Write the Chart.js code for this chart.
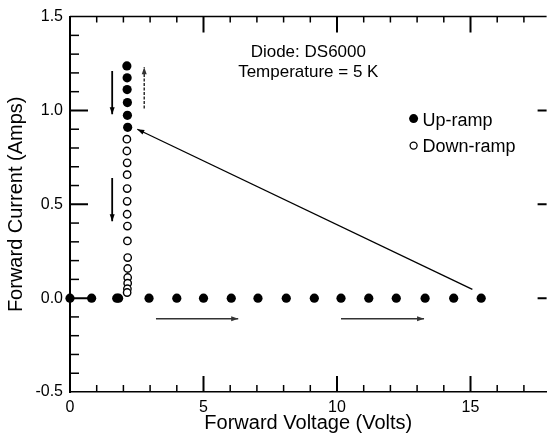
<!DOCTYPE html>
<html>
<head>
<meta charset="utf-8">
<script src="https://cdn.jsdelivr.net/npm/chart.js@4.4.1/dist/chart.umd.min.js"></script>
<style>
  html, body { margin: 0; padding: 0; background: #fff; }
  #wrap { width: 552px; height: 437px; }
</style>
</head>
<body>
<div id="wrap"><canvas id="ivChart"></canvas></div>
<script>
// Diode DS6000 forward I-V at 5 K

// up-ramp: voltage sweep at ~0 A, then the jump to 2.15 V and the current climb
const upRampV = [0, 0.81, 1.75, 1.82, 2.96, 4.0, 5.0, 6.04, 7.04, 8.1, 9.15, 10.15, 11.19, 12.22, 13.3, 14.37, 15.4,
                 2.16, 2.15, 2.15, 2.14, 2.14, 2.13];
const upRampI = [0, 0, 0, 0, 0, 0, 0, 0, 0, 0, 0, 0, 0, 0, 0, 0, 0,
                 0.91, 0.974, 1.042, 1.111, 1.174, 1.237];

const downRampV = [2.13, 2.13, 2.14, 2.14, 2.14, 2.14, 2.14, 2.15, 2.15, 2.16, 2.16, 2.16, 2.16, 2.15, 2.14];
const downRampI = [0.847, 0.784, 0.721, 0.658, 0.584, 0.516, 0.447, 0.384, 0.305, 0.216, 0.158, 0.11, 0.08, 0.05, 0.03];

// switch-back line from the end of the voltage sweep to the on-state
const jumpV = [15.07, 2.52];
const jumpI = [0.047, 0.9];

// direction arrows (start -> tip)
const guideV = [[1.58, 1.58], [2.78, 2.78], [1.58, 1.58], [3.22, 6.3], [10.15, 13.26]];
const guideI = [[1.21, 0.98], [1.01, 1.23], [0.64, 0.41], [-0.11, -0.11], [-0.11, -0.11]];

const xTickLabels = [0, 5, 10, 15];
const yTickLabels = [-0.5, 0, 0.5, 1.0, 1.5];

const toPoints = (xs, ys) => xs.map((v, i) => ({ x: v, y: ys[i] }));

const FONT = '"Liberation Sans", Arial, Helvetica, sans-serif';
Chart.defaults.font.family = FONT;
Chart.defaults.color = '#000';

// frame, inward tick marks, arrowheads and the text block / legend
const decorations = {
  id: 'decorations',
  afterDatasetsDraw(chart) {
    const { ctx, chartArea: a, scales: { x, y } } = chart;
    ctx.save();
    ctx.strokeStyle = '#000';

    // top frame line
    ctx.lineWidth = 1.5;
    ctx.beginPath();
    ctx.moveTo(a.left, a.top);
    ctx.lineTo(a.right, a.top);
    ctx.stroke();

    // x ticks (bottom and top)
    for (let v = 1; v <= 17; v++) {
      const px = x.getPixelForValue(v);
      const major = v % 5 === 0;
      ctx.lineWidth = major ? 2 : 1.5;
      ctx.beginPath();
      ctx.moveTo(px, a.bottom);
      ctx.lineTo(px, a.bottom - (major ? 16 : 7));
      ctx.moveTo(px, a.top);
      ctx.lineTo(px, a.top + (major ? 16 : 6));
      ctx.stroke();
    }
    // y ticks (left, right majors)
    for (let k = -4; k <= 14; k++) {
      const py = y.getPixelForValue(k / 10);
      const major = k % 5 === 0;
      ctx.lineWidth = major ? 2 : 1.5;
      ctx.beginPath();
      ctx.moveTo(a.left, py);
      ctx.lineTo(a.left + (major ? 18 : 9), py);
      if (major) {
        ctx.moveTo(a.right, py);
        ctx.lineTo(a.right - 9, py);
      }
      ctx.stroke();
    }

    // arrowheads
    chart.data.datasets.forEach((ds, i) => {
      if (!ds.arrow) return;
      const pts = chart.getDatasetMeta(i).data;
      const tip = pts[pts.length - 1], tail = pts[pts.length - 2];
      const ang = Math.atan2(tip.y - tail.y, tip.x - tail.x);
      ctx.save();
      ctx.translate(tip.x, tip.y);
      ctx.rotate(ang);
      ctx.beginPath();
      ctx.moveTo(0, 0);
      ctx.lineTo(-7, -2.5);
      ctx.lineTo(-7, 2.5);
      ctx.closePath();
      ctx.fillStyle = ds.borderColor;
      ctx.fill();
      ctx.restore();
    });

    // text block
    ctx.fillStyle = '#000';
    ctx.font = '17px ' + FONT;
    ctx.textAlign = 'center';
    ctx.textBaseline = 'middle';
    const cx = (a.left + a.right) / 2;
    ctx.fillText('Diode: DS6000', cx, a.top + 36);
    ctx.fillText('Temperature = 5 K', cx, a.top + 56);

    // legend
    const lx = a.right - 133;
    ctx.font = '18px ' + FONT;
    ctx.textAlign = 'left';
    ctx.beginPath();
    ctx.arc(lx, a.top + 102, 4.5, 0, Math.PI * 2);
    ctx.fill();
    ctx.fillText('Up-ramp', lx + 9, a.top + 104);
    ctx.beginPath();
    ctx.lineWidth = 1.3;
    ctx.arc(lx, a.top + 129, 3.5, 0, Math.PI * 2);
    ctx.stroke();
    ctx.fillText('Down-ramp', lx + 9, a.top + 130);
    ctx.restore();
  }
};

const datasets = [
  {
    label: 'Up-ramp',
    data: toPoints(upRampV, upRampI),
    pointRadius: 4.6,
    pointBackgroundColor: '#000',
    pointBorderWidth: 0,
    showLine: false,
    clip: false
  },
  {
    label: 'Down-ramp',
    data: toPoints(downRampV, downRampI),
    pointRadius: 3.7,
    pointBackgroundColor: '#fff',
    pointBorderColor: '#000',
    pointBorderWidth: 1.4,
    showLine: false
  },
  {
    label: 'jump',
    data: toPoints(jumpV, jumpI),
    showLine: true,
    borderColor: '#000',
    borderWidth: 1.3,
    pointRadius: 0,
    arrow: true
  }
];

guideV.forEach((xs, i) => {
  datasets.push({
    label: 'guide' + i,
    data: toPoints(xs, guideI[i]),
    showLine: true,
    borderColor: i === 0 || i === 2 ? '#000' : '#333',
    borderWidth: i === 0 || i === 2 ? 1.8 : 1.5,
    borderDash: i === 1 ? [3, 1.5] : [],
    pointRadius: 0,
    arrow: true
  });
});

new Chart(document.getElementById('ivChart'), {
  type: 'scatter',
  data: { datasets },
  plugins: [decorations],
  options: {
    responsive: true,
    maintainAspectRatio: false,
    animation: false,
    layout: { padding: { top: 12, right: 0, bottom: 0, left: 0 } },
    plugins: {
      legend: { display: false },
      tooltip: { enabled: false }
    },
    scales: {
      x: {
        type: 'linear',
        min: 0,
        max: 17.85,
        afterBuildTicks: (s) => { s.ticks = xTickLabels.map(v => ({ value: v })); },
        afterFit: (s) => { s.height = 45; },
        ticks: { font: { size: 16 }, padding: 6, maxRotation: 0, callback: (v) => String(v) },
        grid: { display: false, drawTicks: false },
        border: { display: true, color: '#000', width: 1.5 },
        title: { display: true, text: 'Forward Voltage (Volts)', font: { size: 20 }, padding: { top: 0, bottom: 2 } }
      },
      y: {
        type: 'linear',
        min: -0.5,
        max: 1.5,
        afterBuildTicks: (s) => { s.ticks = yTickLabels.map(v => ({ value: v })); },
        afterFit: (s) => { s.width = 70; },
        ticks: { font: { size: 16 }, padding: 7, callback: (v) => v.toFixed(1) },
        grid: { display: false, drawTicks: false },
        border: { display: true, color: '#000', width: 2 },
        title: { display: true, text: 'Forward Current (Amps)', font: { size: 20 }, padding: { top: 4, bottom: 0 } }
      }
    }
  }
});
</script>
</body>
</html>
